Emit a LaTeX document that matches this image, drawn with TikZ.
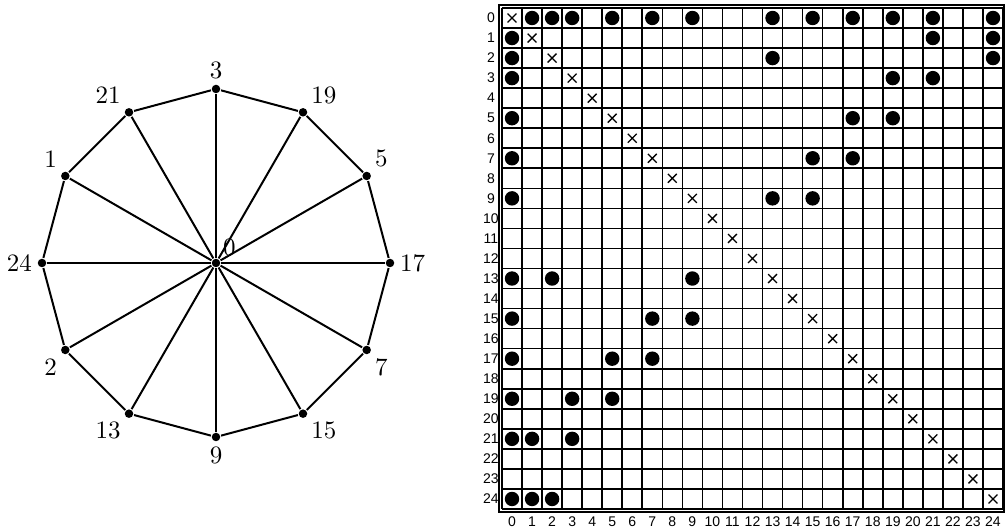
\documentclass[tikz,border=0pt]{standalone}
\usepackage{fontspec}
\newfontfamily\gridfont{Liberation Sans}
\tikzset{
  vert/.style={circle,fill,inner sep=0pt,minimum size=3.4pt},
  vlabel/.style={inner sep=1.5pt},
  idx/.style={font=\gridfont\fontsize{5.6pt}{6.5pt}\selectfont,inner sep=0pt},
  gridline/.style={line width=0.65pt},
  xmark/.style={line width=0.55pt},
}
\begin{document}
\begin{tikzpicture}[x=0.4pt,y=0.4pt]
  \useasboundingbox (0,0) rectangle (1007,530);
  % wheel graph
  \begin{scope}[shift={(216,267)},thick]
    \node[vert,label={[inner sep=1pt]above right:0}] (v0) at (0,0) {};
    \foreach \v/\a/\p in {3/90/above, 19/60/above right, 5/30/above right, 17/0/right,
        7/-30/below right, 15/-60/below right, 9/-90/below, 13/-120/below left,
        2/-150/below left, 24/180/left, 1/150/above left, 21/120/above left} {
      \node[vert,label={[vlabel]\p:\v}] (v\v) at (\a:174) {};
      \draw (v0) -- (v\v);
    }
    \foreach \a/\b in {3/19, 19/5, 5/17, 17/7, 7/15, 15/9, 9/13, 13/2, 2/24, 24/1, 1/21, 21/3}
      \draw (v\a) -- (v\b);
  \end{scope}
  % adjacency matrix
  \begin{scope}[shift={(502,522)},x=8.016pt,y=-8.016pt]
    \foreach \i in {0,...,25} {
      \draw[gridline] (\i,0) -- (\i,25);
      \draw[gridline] (0,\i) -- (25,\i);
    }
    \draw[gridline] (-0.15,-0.15) rectangle (25.05,25.15);
    \foreach \i in {0,...,24} {
      \node[idx] (r\i) at (-0.55,\i+0.5) {\i};
      \node[idx] (c\i) at (\i+0.5,25.65) {\i};
      \draw[xmark] (\i+0.28,\i+0.28) -- (\i+0.72,\i+0.72)
                   (\i+0.72,\i+0.28) -- (\i+0.28,\i+0.72);
    }
    \foreach \a/\b in {0/1, 0/2, 0/3, 0/5, 0/7, 0/9, 0/13, 0/15, 0/17, 0/19, 0/21, 0/24,
        3/19, 19/5, 5/17, 17/7, 7/15, 15/9, 9/13, 13/2, 2/24, 24/1, 1/21, 21/3} {
      \fill (\b+0.5,\a+0.5) circle[radius=0.36];
      \fill (\a+0.5,\b+0.5) circle[radius=0.36];
    }
  \end{scope}
\end{tikzpicture}
\end{document}
